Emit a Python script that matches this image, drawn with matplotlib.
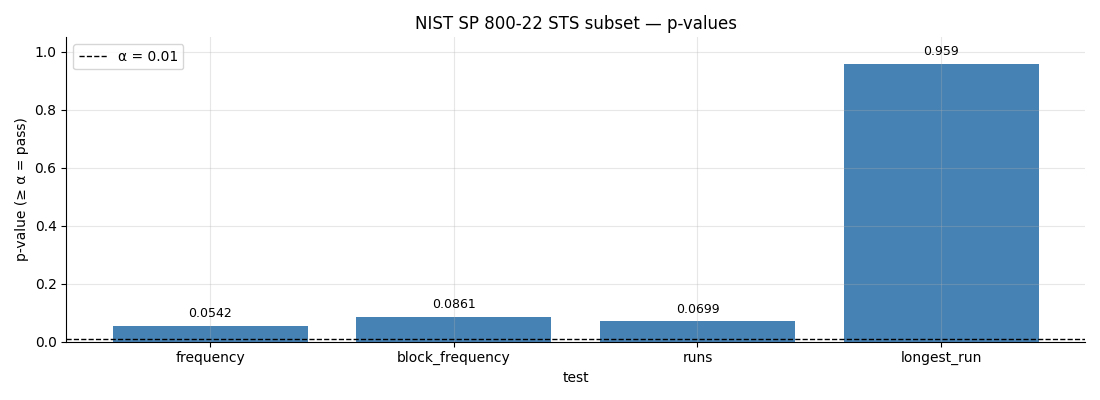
import numpy as np
import matplotlib.pyplot as plt

tests = ["frequency", "block_frequency", "runs", "longest_run"]
p_values = [0.0542, 0.0861, 0.0699, 0.959]
ALPHA = 0.01

fig, ax = plt.subplots(figsize=(11, 4), dpi=100)

bars = ax.bar(tests, p_values, color="steelblue")
ax.axhline(ALPHA, color="black", linestyle="--", linewidth=1, label=f"α = {ALPHA}")

for b, v in zip(bars, p_values):
    ax.annotate(f"{v:.3g}", (b.get_x() + b.get_width() / 2, v),
                xytext=(0, 4), textcoords="offset points",
                ha="center", va="bottom", fontsize=9)

ax.set_ylim(0, 1.05)
ax.set_title("NIST SP 800-22 STS subset — p-values", fontsize=12)
ax.set_xlabel("test")
ax.set_ylabel("p-value (≥ α = pass)")
ax.grid(True, alpha=0.3)
ax.spines["top"].set_visible(False)
ax.spines["right"].set_visible(False)
ax.legend(loc="upper left")

plt.tight_layout()
plt.savefig("out.png", dpi=100)
